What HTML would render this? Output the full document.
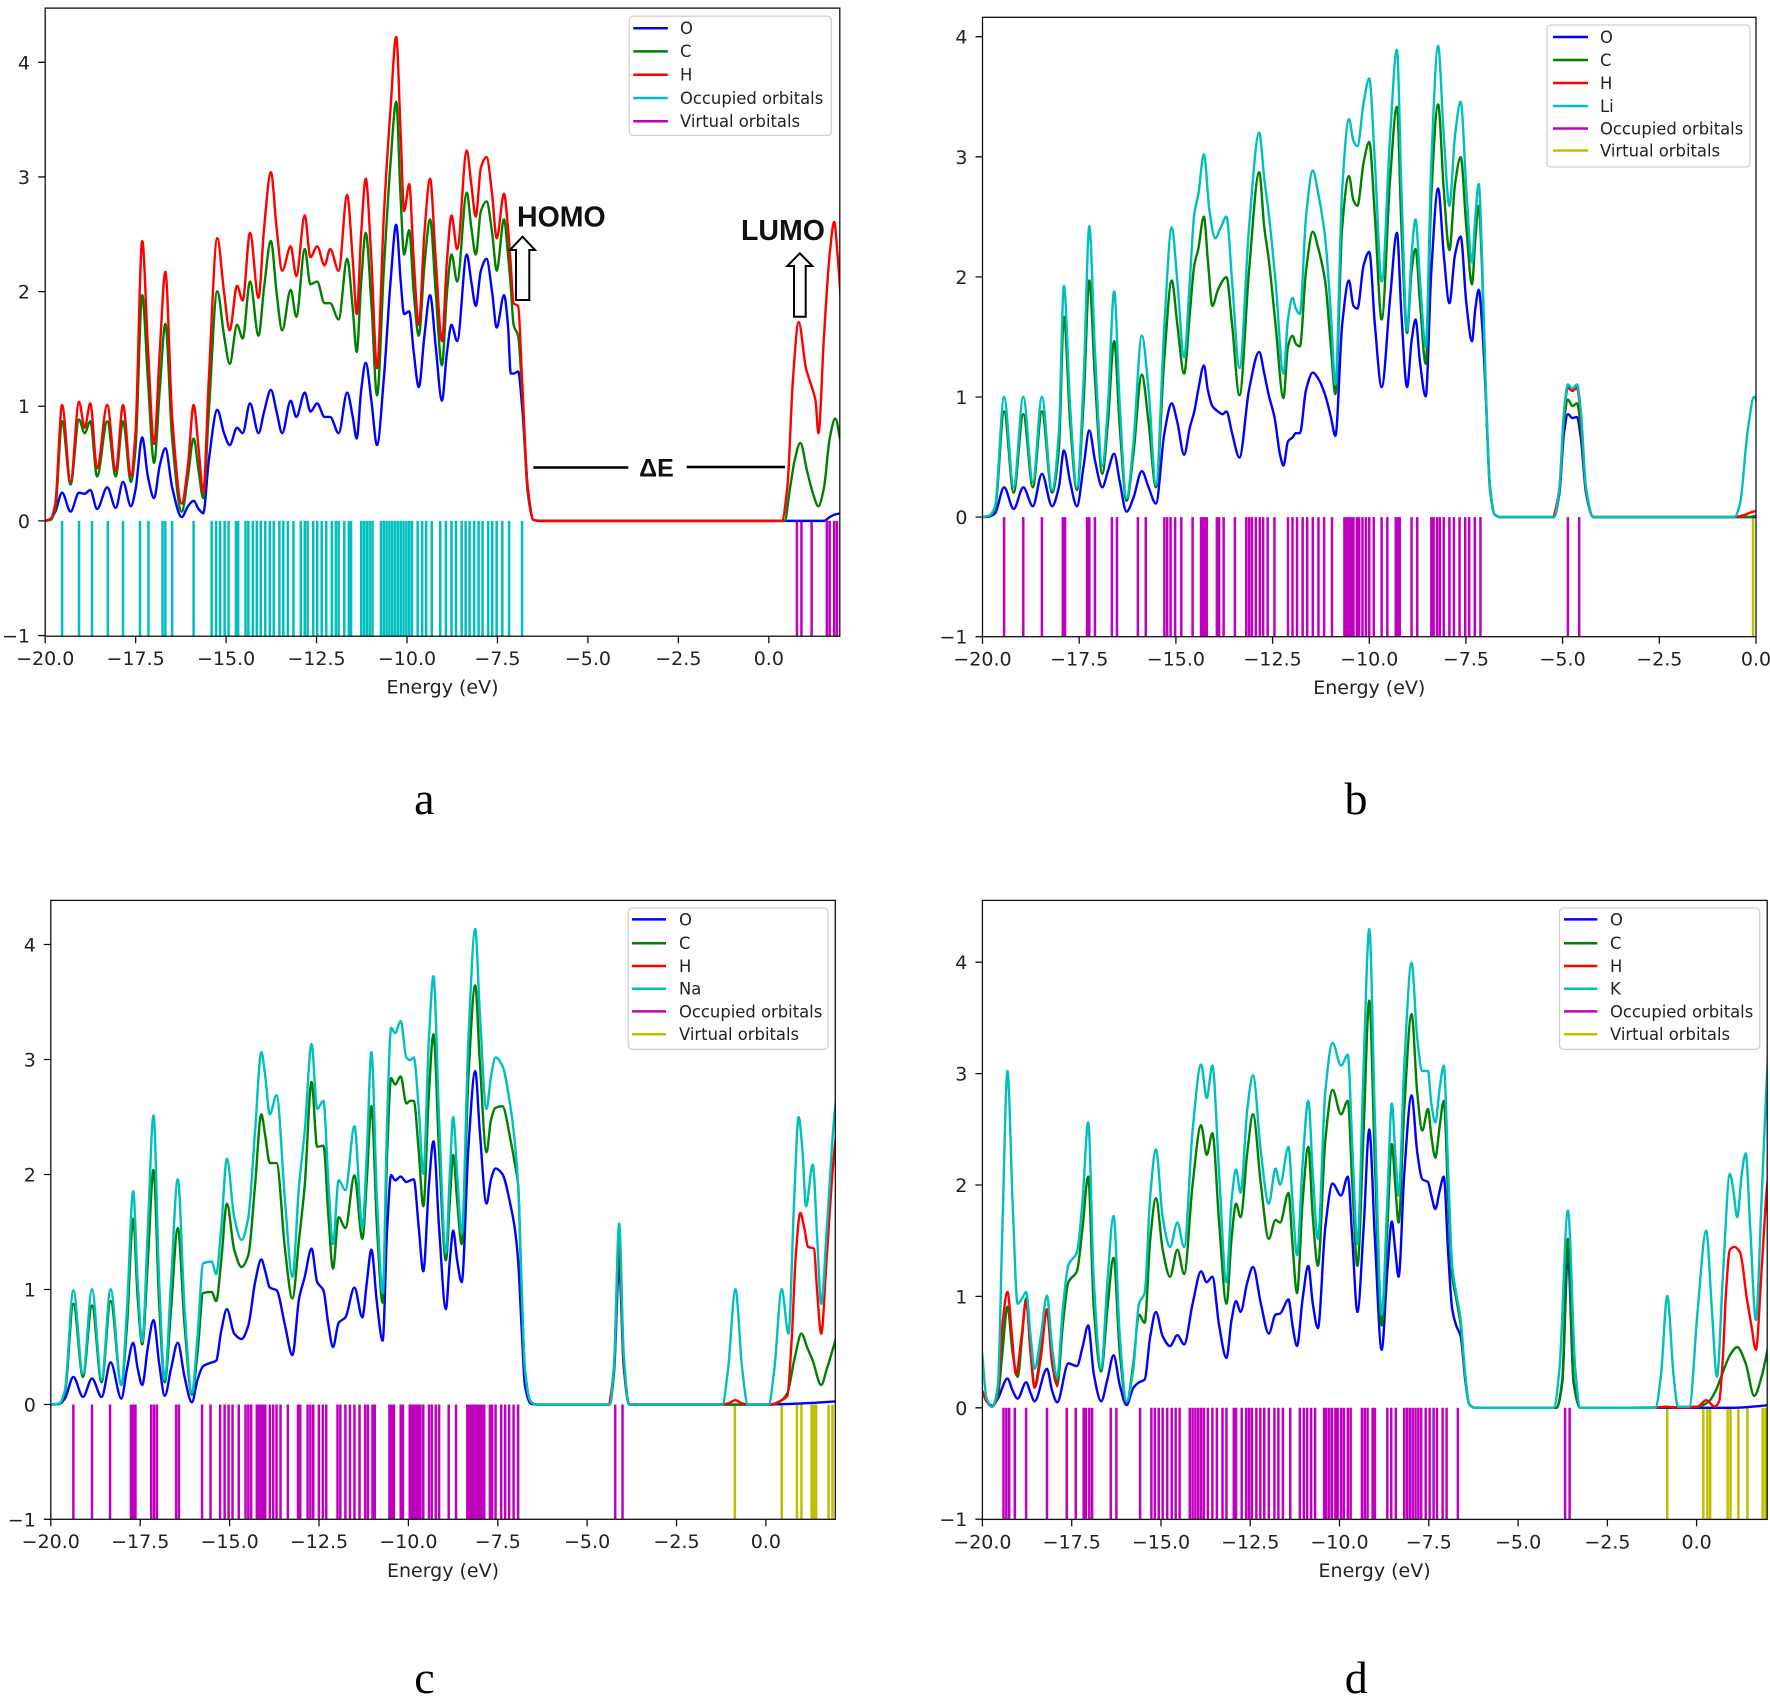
<!DOCTYPE html>
<html><head><meta charset="utf-8"><style>
html,body{margin:0;padding:0;background:#fff;}
svg{display:block;}
.tk{font-family:"DejaVu Sans","Liberation Sans",sans-serif;font-size:19px;fill:#222;}
.lg{font-family:"DejaVu Sans","Liberation Sans",sans-serif;font-size:16.4px;fill:#222;}
.sub{font-family:"Liberation Serif","DejaVu Serif",serif;font-size:46px;fill:#000;}
.bold{font-family:"Liberation Sans","DejaVu Sans",sans-serif;font-weight:bold;fill:#111;}
.c{fill:none;stroke-width:2.4;stroke-linejoin:round;stroke-linecap:round;vector-effect:non-scaling-stroke;}
.o{fill:none;stroke-width:2.5;vector-effect:non-scaling-stroke;}
.sp{fill:none;stroke:#111;stroke-width:1.3;}
.tm{stroke:#111;stroke-width:1.3;}
</style></head><body>
<svg width="1770" height="1698" viewBox="0 0 1770 1698" xmlns="http://www.w3.org/2000/svg">
<rect width="1770" height="1698" fill="#fff"/>
<defs>
<clipPath id="ca"><rect x="45.2" y="8.1" width="794.6" height="628.1"/></clipPath>
<clipPath id="cb"><rect x="982.5" y="17.3" width="773.5" height="619.4"/></clipPath>
<clipPath id="cc"><rect x="50.8" y="900.4" width="784.5" height="618.9"/></clipPath>
<clipPath id="cd"><rect x="982.4" y="900.4" width="784.8" height="619"/></clipPath>
</defs>

<!-- ================= PANEL A ================= -->
<g clip-path="url(#ca)">
<g transform="translate(0,0) scale(0.56440,0.54145)">
<path class="o" stroke="#00bfbf" d="M110 962V1176M140 962V1176M163 962V1176M191 962V1176M218 962V1176M248 962V1176M263 962V1176M288 962V1176M293 962V1176M305 962V1176M343 962V1176M375 962V1176M383 962V1176M390 962V1176M398 962V1176M405 962V1176M418 962V1176M422 962V1176M435 962V1176M440 962V1176M448 962V1176M455 962V1176M462 962V1176M470 962V1176M478 962V1176M485 962V1176M495 962V1176M502 962V1176M510 962V1176M520 962V1176M533 962V1176M540 962V1176M545 962V1176M555 962V1176M562 962V1176M570 962V1176M578 962V1176M588 962V1176M595 962V1176M600 962V1176M610 962V1176M618 962V1176M622 962V1176M640 962V1176M645 962V1176M650 962V1176M655 962V1176M660 962V1176M675 962V1176M680 962V1176M685 962V1176M690 962V1176M695 962V1176M700 962V1176M705 962V1176M710 962V1176M715 962V1176M720 962V1176M725 962V1176M730 962V1176M740 962V1176M748 962V1176M755 962V1176M765 962V1176M780 962V1176M790 962V1176M800 962V1176M808 962V1176M818 962V1176M825 962V1176M832 962V1176M840 962V1176M848 962V1176M855 962V1176M865 962V1176M872 962V1176M880 962V1176M890 962V1176M902 962V1176M925 962V1176"/>
<path class="o" stroke="#bf00bf" d="M1412 962V1176M1420 962V1176M1438 962V1176M1465 962V1176M1470 962V1176M1478 962V1176M1483 962V1176"/>
<polyline class="c" stroke="#0000ff" points="80,962 90,958 98,945 110,910 125,945 140,910 150,912 160,905 172,940 190,900 205,938 218,890 232,935 240,905 252,808 262,880 273,920 283,860 293,828 305,900 322,955 333,935 343,925 352,940 360,948 370,850 385,757 397,800 407,822 420,790 430,800 443,745 458,800 468,760 480,720 490,760 500,800 515,740 525,770 540,725 550,760 562,745 575,770 585,770 600,800 615,725 625,770 632,810 640,720 648,670 658,740 668,822 680,700 692,520 702,415 710,520 716,580 725,575 733,650 742,715 752,620 762,545 772,640 783,740 792,650 800,600 810,630 827,470 835,520 843,565 852,500 862,478 872,540 880,605 893,545 900,600 905,690 910,690 918,686 925,750 935,900 945,960 955,962 1460,962 1470,955 1480,950 1490,948"/>
<polyline class="c" stroke="#008000" points="80,962 90,960 98,940 110,778 125,895 140,775 150,800 160,778 172,880 190,778 205,880 218,778 232,890 240,830 252,545 262,700 273,855 283,720 293,598 305,810 322,945 333,880 343,810 352,870 360,920 370,760 385,538 397,620 407,672 420,600 430,625 443,520 458,620 468,530 480,445 490,540 500,610 515,535 525,585 540,460 550,525 562,520 575,560 585,560 600,590 615,478 625,570 632,650 640,520 648,430 658,560 668,730 680,500 692,300 702,188 710,370 716,470 725,425 733,540 742,620 752,490 762,405 772,540 783,675 792,540 800,470 810,520 827,356 835,420 843,470 852,390 862,372 872,430 880,500 893,405 900,470 905,530 910,600 918,620 925,720 935,910 945,960 955,962 1390,962 1400,900 1408,850 1418,818 1430,870 1440,910 1450,935 1460,900 1470,810 1480,773 1490,820"/>
<polyline class="c" stroke="#ff0000" points="80,962 90,958 98,930 110,748 125,890 140,742 150,790 160,745 172,865 190,748 205,870 218,748 232,880 240,800 252,445 262,640 273,820 283,650 293,502 305,770 322,930 333,860 343,748 352,830 360,910 370,700 385,440 397,540 407,610 420,528 430,555 443,430 458,550 468,420 480,318 490,420 500,500 515,455 525,510 540,398 550,475 562,455 575,490 585,460 600,500 615,360 625,480 632,580 640,430 648,330 658,480 668,680 680,400 692,200 702,68 710,250 716,390 725,340 733,480 742,600 752,430 762,330 772,480 783,630 792,480 800,398 810,460 827,278 835,340 843,400 852,310 862,290 872,360 880,440 893,358 900,420 905,490 910,560 918,565 925,700 935,900 945,960 955,962 1385,962 1395,900 1405,700 1415,595 1428,680 1440,720 1445,740 1450,800 1460,620 1470,470 1478,410 1484,470 1490,560"/>
</g>
</g>
<rect class="sp" x="45.2" y="8.1" width="794.6" height="628.1"/>
<path class="tm" d="M45.2 636.2v7M135.65 636.2v7M226.1 636.2v7M316.55 636.2v7M407 636.2v7M497.45 636.2v7M587.9 636.2v7M678.35 636.2v7M768.8 636.2v7M45.2 635.55h-7M45.2 520.9h-7M45.2 406.25h-7M45.2 291.6h-7M45.2 176.95h-7M45.2 62.3h-7"/>
<g class="tk" text-anchor="middle">
<text x="45.2" y="665">−20.0</text><text x="135.65" y="665">−17.5</text><text x="226.1" y="665">−15.0</text><text x="316.55" y="665">−12.5</text><text x="407" y="665">−10.0</text><text x="497.45" y="665">−7.5</text><text x="587.9" y="665">−5.0</text><text x="678.35" y="665">−2.5</text><text x="768.8" y="665">0.0</text>
<text x="442.5" y="693.5">Energy (eV)</text>
</g>
<g class="tk" text-anchor="end">
<text x="30" y="642.5">−1</text><text x="30" y="527.9">0</text><text x="30" y="413.2">1</text><text x="30" y="298.6">2</text><text x="30" y="184">3</text><text x="30" y="69.3">4</text>
</g>
<rect x="629.3" y="16.2" width="202" height="119.2" rx="4" fill="#fff" fill-opacity="0.85" stroke="#d0d0d0" stroke-width="1.3"/>
<path stroke-width="2.5" d="M633.3 28.2h34.5" stroke="#0000ff"/>
<path stroke-width="2.5" d="M633.3 51.4h34.5" stroke="#008000"/>
<path stroke-width="2.5" d="M633.3 74.7h34.5" stroke="#ff0000"/>
<path stroke-width="2.5" d="M633.3 98h34.5" stroke="#00bfbf"/>
<path stroke-width="2.5" d="M633.3 121.3h34.5" stroke="#bf00bf"/>
<g class="lg"><text x="680" y="34">O</text><text x="680" y="57.2">C</text><text x="680" y="80.5">H</text><text x="680" y="103.8">Occupied orbitals</text><text x="680" y="127.1">Virtual orbitals</text></g>
<text class="bold" x="517" y="226.7" font-size="28.5">HOMO</text>
<text class="bold" x="741" y="240" font-size="28.5">LUMO</text>
<polygon points="522.5,236.7 535,250 529.3,250 529.3,300 516,300 516,250 510,250" fill="#fff" stroke="#000" stroke-width="2"/>
<polygon points="799.8,253.3 812.3,266 805.7,266 805.7,316.7 794,316.7 794,266 787.3,266" fill="#fff" stroke="#000" stroke-width="2"/>
<path d="M533.3 467.5H628.3M686.7 467H785" stroke="#000" stroke-width="2.5"/>
<text class="bold" x="656.5" y="476.7" font-size="25" text-anchor="middle">ΔE</text>
<text class="sub" x="424.3" y="814" text-anchor="middle">a</text>

<!-- ================= PANEL B ================= -->
<g clip-path="url(#cb)">
<g transform="translate(885,0) scale(0.56440,0.54145)">
<path class="o" stroke="#bf00bf" d="M211 955V1180M245 955V1180M278 955V1180M315 955V1180M319 955V1180M358 955V1180M362 955V1180M372 955V1180M402 955V1180M411 955V1180M448 955V1180M462 955V1180M495 955V1180M500 955V1180M506 955V1180M514 955V1180M525 955V1180M545 955V1180M560 955V1180M563 955V1180M566 955V1180M570 955V1180M588 955V1180M592 955V1180M600 955V1180M620 955V1180M640 955V1180M645 955V1180M650 955V1180M657 955V1180M664 955V1180M670 955V1180M678 955V1180M690 955V1180M714 955V1180M722 955V1180M730 955V1180M740 955V1180M748 955V1180M758 955V1180M768 955V1180M778 955V1180M792 955V1180M814 955V1180M818 955V1180M822 955V1180M826 955V1180M830 955V1180M836 955V1180M840 955V1180M846 955V1180M852 955V1180M858 955V1180M866 955V1180M880 955V1180M890 955V1180M905 955V1180M908 955V1180M912 955V1180M933 955V1180M943 955V1180M968 955V1180M972 955V1180M978 955V1180M983 955V1180M990 955V1180M1000 955V1180M1008 955V1180M1018 955V1180M1028 955V1180M1035 955V1180M1045 955V1180M1055 955V1180M1210 955V1180M1230 955V1180"/>
<path class="o" stroke="#bfbf00" d="M1538 955V1180"/>
<polyline class="c" stroke="#0000ff" points="172,955 185,954 195,948 211,900 228,940 245,900 262,935 278,875 296,935 308,900 317,832 328,890 340,935 352,860 362,795 372,850 385,900 395,870 406,838 416,890 428,945 440,920 455,870 467,900 480,930 495,800 508,745 518,780 530,840 540,790 548,760 555,720 565,675 572,720 580,750 590,760 598,765 605,760 615,800 628,845 645,720 663,650 672,690 680,730 690,770 700,840 706,860 714,815 722,808 728,800 735,800 746,720 758,688 768,700 780,730 790,770 798,805 810,600 822,518 830,565 837,570 848,490 858,465 868,600 880,715 895,550 907,430 915,580 925,715 933,630 940,590 948,670 958,732 968,500 980,348 990,470 1000,560 1010,470 1020,437 1030,560 1040,630 1046,570 1052,535 1058,600 1064,720 1072,900 1080,950 1090,955 1185,955 1195,910 1203,800 1210,765 1218,772 1226,770 1233,810 1242,910 1255,955 1550,955"/>
<polyline class="c" stroke="#008000" points="172,955 185,953 195,940 211,760 228,910 245,765 262,900 278,760 296,910 308,830 317,585 328,780 340,905 352,740 362,518 372,700 385,875 395,780 406,630 416,790 428,925 440,840 455,692 467,780 480,900 495,660 508,518 518,600 530,690 540,580 548,490 555,460 565,400 572,480 580,565 590,535 605,512 615,600 628,730 645,500 663,318 672,420 680,480 692,600 706,735 714,640 722,620 728,635 735,640 746,500 758,428 768,460 780,520 790,640 798,728 810,420 822,325 830,370 837,380 848,300 858,262 868,400 880,590 895,330 907,197 915,420 925,615 933,500 940,460 948,560 958,672 968,360 980,193 990,350 1000,462 1010,340 1020,290 1030,420 1040,525 1046,440 1052,380 1058,500 1064,710 1072,905 1080,950 1090,955 1185,955 1195,905 1203,780 1210,738 1218,750 1226,745 1233,790 1242,905 1255,955 1530,955 1550,950"/>
<polyline class="c" stroke="#ff0000" points="1185,955 1195,902 1203,765 1210,716 1218,722 1226,716 1233,770 1242,902 1255,955 1505,955 1520,952 1535,946 1550,942"/>
<polyline class="c" stroke="#00bfbf" points="172,955 185,952 195,935 211,733 228,900 245,733 262,890 278,733 296,905 308,800 317,528 328,750 340,900 352,700 362,418 372,650 385,860 395,750 406,538 416,750 428,920 440,820 455,620 467,720 480,895 495,600 508,420 518,520 530,660 540,520 548,395 555,360 565,285 575,390 585,440 595,420 605,400 615,520 628,680 645,420 663,245 672,330 680,395 692,520 706,690 714,590 722,550 728,570 735,580 746,400 758,315 768,360 780,440 790,580 798,710 810,350 822,220 830,260 837,270 848,190 858,145 868,300 880,520 895,250 907,92 915,350 925,610 933,470 940,405 948,520 958,640 968,300 980,85 990,250 1000,380 1010,250 1020,188 1030,350 1040,485 1046,400 1052,340 1058,480 1064,700 1072,900 1080,950 1090,955 1185,955 1195,900 1203,760 1210,710 1218,718 1226,710 1233,760 1242,900 1255,955 1505,955 1515,930 1528,800 1540,733 1550,770"/>
</g>
</g>
<rect class="sp" x="982.5" y="17.3" width="773.5" height="619.4"/>
<path class="tm" d="M982.5 636.7v7M1079.2 636.7v7M1175.9 636.7v7M1272.6 636.7v7M1369.3 636.7v7M1465.9 636.7v7M1562.6 636.7v7M1659.3 636.7v7M1756 636.7v7M982.5 636.7h-7M982.5 517.1h-7M982.5 397h-7M982.5 276.9h-7M982.5 156.8h-7M982.5 36.7h-7"/>
<g class="tk" text-anchor="middle">
<text x="982.5" y="665.5">−20.0</text><text x="1079.2" y="665.5">−17.5</text><text x="1175.9" y="665.5">−15.0</text><text x="1272.6" y="665.5">−12.5</text><text x="1369.3" y="665.5">−10.0</text><text x="1465.9" y="665.5">−7.5</text><text x="1562.6" y="665.5">−5.0</text><text x="1659.3" y="665.5">−2.5</text><text x="1756" y="665.5">0.0</text>
<text x="1369.3" y="694">Energy (eV)</text>
</g>
<g class="tk" text-anchor="end">
<text x="967.5" y="643.7">−1</text><text x="967.5" y="524.1">0</text><text x="967.5" y="404">1</text><text x="967.5" y="283.9">2</text><text x="967.5" y="163.8">3</text><text x="967.5" y="43.7">4</text>
</g>
<rect x="1547" y="25" width="203" height="142" rx="4" fill="#fff" fill-opacity="0.85" stroke="#d0d0d0" stroke-width="1.3"/>
<path stroke-width="2.5" d="M1553 37h35" stroke="#0000ff"/>
<path stroke-width="2.5" d="M1553 60h35" stroke="#008000"/>
<path stroke-width="2.5" d="M1553 83h35" stroke="#ff0000"/>
<path stroke-width="2.5" d="M1553 106h35" stroke="#00bfbf"/>
<path stroke-width="2.5" d="M1553 128.5h35" stroke="#bf00bf"/>
<path stroke-width="2.5" d="M1553 150.5h35" stroke="#bfbf00"/>
<g class="lg"><text x="1600" y="43">O</text><text x="1600" y="66">C</text><text x="1600" y="89">H</text><text x="1600" y="112">Li</text><text x="1600" y="134.5">Occupied orbitals</text><text x="1600" y="156.5">Virtual orbitals</text></g>
<text class="sub" x="1356" y="814" text-anchor="middle">b</text>

<!-- ================= PANEL C ================= -->
<g clip-path="url(#cc)">
<g transform="translate(0,849) scale(0.56440,0.54145)">
<path class="o" stroke="#bf00bf" d="M130 1026V1242M163 1026V1242M195 1026V1242M232 1026V1242M236 1026V1242M240 1026V1242M268 1026V1242M273 1026V1242M278 1026V1242M312 1026V1242M317 1026V1242M358 1026V1242M373 1026V1242M390 1026V1242M398 1026V1242M405 1026V1242M412 1026V1242M423 1026V1242M435 1026V1242M440 1026V1242M445 1026V1242M455 1026V1242M458 1026V1242M461 1026V1242M464 1026V1242M467 1026V1242M470 1026V1242M478 1026V1242M484 1026V1242M490 1026V1242M497 1026V1242M510 1026V1242M528 1026V1242M532 1026V1242M545 1026V1242M550 1026V1242M555 1026V1242M565 1026V1242M572 1026V1242M578 1026V1242M598 1026V1242M603 1026V1242M612 1026V1242M620 1026V1242M628 1026V1242M637 1026V1242M647 1026V1242M652 1026V1242M660 1026V1242M664 1026V1242M690 1026V1242M694 1026V1242M698 1026V1242M710 1026V1242M714 1026V1242M726 1026V1242M730 1026V1242M734 1026V1242M738 1026V1242M742 1026V1242M745 1026V1242M750 1026V1242M760 1026V1242M765 1026V1242M772 1026V1242M778 1026V1242M795 1026V1242M808 1026V1242M828 1026V1242M832 1026V1242M836 1026V1242M840 1026V1242M844 1026V1242M848 1026V1242M852 1026V1242M855 1026V1242M858 1026V1242M868 1026V1242M872 1026V1242M878 1026V1242M888 1026V1242M895 1026V1242M902 1026V1242M910 1026V1242M918 1026V1242M1090 1026V1242M1103 1026V1242"/>
<path class="o" stroke="#bfbf00" d="M1302 1026V1242M1385 1026V1242M1412 1026V1242M1420 1026V1242M1438 1026V1242M1442 1026V1242M1446 1026V1242M1468 1026V1242M1475 1026V1242"/>
<polyline class="c" stroke="#0000ff" points="90,1026 105,1025 115,1015 130,975 147,1012 163,978 180,1012 196,948 215,1015 225,960 236,912 244,960 252,990 262,920 272,870 282,950 292,1010 303,960 315,912 327,975 340,1022 350,980 360,955 370,950 383,945 392,890 402,850 415,895 428,905 440,880 452,800 463,758 470,780 478,810 490,815 505,880 518,935 530,830 540,790 552,738 562,800 573,815 582,880 590,920 600,875 612,865 628,810 642,865 650,800 658,740 668,840 678,908 686,700 693,602 700,612 710,605 720,615 727,612 733,610 742,700 750,780 760,620 768,540 778,700 790,850 797,760 803,705 810,760 818,800 830,550 842,410 850,520 862,655 870,610 878,590 890,600 905,660 912,700 918,760 924,880 930,990 940,1024 950,1026 1080,1026 1088,965 1097,770 1105,955 1115,1026 1350,1026 1420,1024 1485,1020"/>
<polyline class="c" stroke="#008000" points="90,1026 105,1025 115,1005 130,840 147,975 163,843 180,985 196,835 215,990 225,880 236,683 244,830 252,915 262,760 272,593 282,840 292,985 303,850 315,700 327,880 340,1008 350,930 360,820 375,818 383,835 392,760 402,655 415,740 428,772 440,750 452,620 463,490 470,530 478,580 490,580 505,740 518,830 530,720 540,620 552,430 562,550 573,548 582,680 590,775 600,680 612,700 628,603 642,720 650,610 658,475 668,700 678,838 686,560 693,423 700,435 710,420 720,470 727,465 733,465 742,560 750,660 760,450 768,342 778,560 790,760 797,650 803,565 810,650 818,730 830,420 842,252 850,390 862,560 870,500 878,478 890,475 905,540 912,580 918,620 924,810 930,960 940,1020 950,1026 1080,1026 1088,960 1097,740 1105,950 1115,1026 1370,1026 1385,1018 1395,1005 1408,940 1420,895 1430,920 1440,945 1455,990 1465,960 1485,890"/>
<polyline class="c" stroke="#ff0000" points="1080,1026 1088,955 1097,705 1105,940 1115,1026 1270,1026 1290,1024 1303,1018 1315,1024 1330,1026 1365,1026 1385,1018 1395,1010 1403,900 1410,750 1418,672 1425,700 1432,735 1442,738 1448,820 1455,895 1465,750 1478,560 1485,500"/>
<polyline class="c" stroke="#00bfbf" points="90,1026 105,1024 115,1000 130,815 147,970 163,813 180,980 196,813 215,990 225,850 236,632 244,800 252,910 262,700 272,492 282,800 292,980 303,800 315,610 327,850 340,1005 350,900 360,765 375,762 383,785 392,700 402,572 415,680 428,722 440,680 452,520 463,375 470,420 478,490 490,455 505,650 518,790 530,620 540,520 552,360 562,480 573,465 582,620 590,730 600,612 612,630 628,512 642,700 650,560 658,375 668,650 678,820 686,500 693,330 700,340 710,318 720,385 727,390 733,385 742,480 750,600 760,350 768,235 778,500 790,745 797,600 803,495 810,600 818,710 830,350 842,148 850,300 862,480 870,420 878,385 890,400 905,480 912,540 918,620 924,800 930,960 940,1020 950,1026 1080,1026 1088,950 1097,692 1105,930 1115,1026 1280,1026 1290,960 1303,813 1315,960 1325,1026 1362,1026 1372,960 1385,813 1397,895 1407,650 1415,495 1422,560 1428,660 1440,583 1448,720 1455,840 1465,700 1478,495 1485,430"/>
</g>
</g>
<rect class="sp" x="50.8" y="900.4" width="784.5" height="618.9"/>
<path class="tm" d="M50.8 1519.3v7M140.2 1519.3v7M229.6 1519.3v7M319 1519.3v7M408.4 1519.3v7M497.8 1519.3v7M587.1 1519.3v7M676.5 1519.3v7M765.9 1519.3v7M50.8 1519.3h-7M50.8 1404.5h-7M50.8 1289.5h-7M50.8 1174.5h-7M50.8 1059.5h-7M50.8 944.5h-7"/>
<g class="tk" text-anchor="middle">
<text x="50.8" y="1548.1">−20.0</text><text x="140.2" y="1548.1">−17.5</text><text x="229.6" y="1548.1">−15.0</text><text x="319" y="1548.1">−12.5</text><text x="408.4" y="1548.1">−10.0</text><text x="497.8" y="1548.1">−7.5</text><text x="587.1" y="1548.1">−5.0</text><text x="676.5" y="1548.1">−2.5</text><text x="765.9" y="1548.1">0.0</text>
<text x="443" y="1577">Energy (eV)</text>
</g>
<g class="tk" text-anchor="end">
<text x="35.8" y="1526.3">−1</text><text x="35.8" y="1411.5">0</text><text x="35.8" y="1296.5">1</text><text x="35.8" y="1181.5">2</text><text x="35.8" y="1066.5">3</text><text x="35.8" y="951.5">4</text>
</g>
<rect x="628.2" y="908" width="199.8" height="141.3" rx="4" fill="#fff" fill-opacity="0.85" stroke="#d0d0d0" stroke-width="1.3"/>
<path stroke-width="2.5" d="M632 919.4h34" stroke="#0000ff"/>
<path stroke-width="2.5" d="M632 943.2h34" stroke="#008000"/>
<path stroke-width="2.5" d="M632 966h34" stroke="#ff0000"/>
<path stroke-width="2.5" d="M632 988.7h34" stroke="#00bfbf"/>
<path stroke-width="2.5" d="M632 1011.4h34" stroke="#bf00bf"/>
<path stroke-width="2.5" d="M632 1034.2h34" stroke="#bfbf00"/>
<g class="lg"><text x="679" y="925.4">O</text><text x="679" y="949.2">C</text><text x="679" y="972">H</text><text x="679" y="994.7">Na</text><text x="679" y="1017.4">Occupied orbitals</text><text x="679" y="1040.2">Virtual orbitals</text></g>
<text class="sub" x="424.4" y="1693" text-anchor="middle">c</text>

<!-- ================= PANEL D ================= -->
<g clip-path="url(#cd)">
<g transform="translate(885,849) scale(0.56440,0.54145)">
<path class="o" stroke="#bf00bf" d="M210 1032V1244M215 1032V1244M220 1032V1244M230 1032V1244M250 1032V1244M287 1032V1244M322 1032V1244M338 1032V1244M352 1032V1244M356 1032V1244M362 1032V1244M367 1032V1244M400 1032V1244M410 1032V1244M452 1032V1244M472 1032V1244M478 1032V1244M485 1032V1244M492 1032V1244M500 1032V1244M508 1032V1244M515 1032V1244M522 1032V1244M540 1032V1244M545 1032V1244M550 1032V1244M555 1032V1244M560 1032V1244M565 1032V1244M572 1032V1244M580 1032V1244M588 1032V1244M598 1032V1244M605 1032V1244M618 1032V1244M622 1032V1244M632 1032V1244M640 1032V1244M645 1032V1244M650 1032V1244M658 1032V1244M665 1032V1244M672 1032V1244M680 1032V1244M690 1032V1244M697 1032V1244M705 1032V1244M718 1032V1244M735 1032V1244M742 1032V1244M748 1032V1244M755 1032V1244M762 1032V1244M778 1032V1244M782 1032V1244M787 1032V1244M792 1032V1244M798 1032V1244M802 1032V1244M808 1032V1244M813 1032V1244M820 1032V1244M825 1032V1244M845 1032V1244M850 1032V1244M855 1032V1244M864 1032V1244M868 1032V1244M890 1032V1244M897 1032V1244M905 1032V1244M920 1032V1244M925 1032V1244M930 1032V1244M935 1032V1244M940 1032V1244M945 1032V1244M950 1032V1244M958 1032V1244M965 1032V1244M972 1032V1244M978 1032V1244M988 1032V1244M995 1032V1244M1015 1032V1244M1205 1032V1244M1213 1032V1244"/>
<path class="o" stroke="#bfbf00" d="M1386 1032V1244M1450 1032V1244M1457 1032V1244M1462 1032V1244M1493 1032V1244M1498 1032V1244M1512 1032V1244M1528 1032V1244M1555 1032V1244M1560 1032V1244"/>
<polyline class="c" stroke="#0000ff" points="172,1000 180,1020 190,1028 200,1015 217,978 226,1000 235,1015 250,985 258,1005 265,1020 287,960 296,1000 305,1022 325,950 340,955 350,920 360,880 370,970 383,1020 394,980 405,935 416,990 428,1027 440,995 450,985 460,980 470,900 480,855 492,900 505,918 518,898 530,915 545,840 560,780 570,800 580,790 592,880 605,940 614,870 622,835 630,855 642,800 652,772 666,840 680,895 692,860 700,858 715,832 722,880 730,918 740,830 750,770 758,840 767,885 780,700 793,618 808,640 820,605 828,720 837,855 848,700 858,518 868,720 880,925 890,780 898,688 904,740 910,790 920,600 933,455 943,560 952,610 962,615 968,640 975,665 983,630 990,605 998,750 1005,850 1012,880 1020,900 1028,980 1035,1025 1045,1032 1190,1032 1200,985 1210,750 1220,985 1232,1032 1500,1032 1570,1027"/>
<polyline class="c" stroke="#008000" points="172,1000 180,1020 190,1030 200,1010 208,930 217,845 226,930 235,975 243,900 250,830 258,930 265,990 276,930 287,855 296,950 305,990 315,880 325,800 340,780 350,700 360,605 370,850 383,965 394,850 405,755 416,930 428,1022 440,950 450,860 460,875 470,720 480,645 492,740 505,790 518,740 530,785 545,620 560,510 570,565 580,525 592,690 605,840 614,720 622,655 630,680 642,560 652,490 666,620 680,720 692,685 700,690 715,635 722,730 730,820 740,650 750,550 758,680 767,770 780,540 793,445 808,490 820,465 828,620 837,770 848,520 858,280 868,580 880,880 890,700 898,545 904,620 910,690 920,480 933,305 943,450 952,520 962,480 968,530 975,570 983,510 990,465 998,650 1005,790 1012,830 1020,880 1028,975 1035,1025 1045,1032 1190,1032 1200,980 1210,720 1220,980 1232,1032 1440,1030 1460,1020 1472,1000 1485,965 1497,935 1510,920 1525,950 1540,1010 1553,975 1570,890"/>
<polyline class="c" stroke="#ff0000" points="172,1000 180,1020 190,1030 200,1000 208,880 217,818 225,900 232,970 242,900 250,835 258,930 265,995 276,940 287,850 296,945 305,992"/>
<polyline class="c" stroke="#ff0000" points="1365,1032 1385,1030 1400,1032 1440,1030 1455,1018 1470,1030 1478,1020 1485,930 1490,820 1497,740 1505,735 1515,745 1527,830 1535,880 1543,925 1553,780 1563,620 1570,560"/>
<polyline class="c" stroke="#00bfbf" points="172,930 180,1015 190,1030 200,990 208,700 217,410 226,650 235,840 243,830 250,818 258,900 265,960 276,900 287,825 296,920 305,975 315,850 325,768 340,745 350,650 360,505 370,800 383,960 394,800 405,678 416,900 428,1020 440,960 450,840 460,820 470,640 480,555 492,680 505,735 518,690 530,735 545,520 560,398 570,460 580,400 592,600 605,800 614,650 622,592 630,635 642,480 652,418 666,560 680,655 692,590 700,620 715,550 722,650 730,750 740,580 750,465 758,600 767,720 780,450 793,358 808,400 820,380 828,550 837,730 848,400 858,148 868,500 880,860 890,650 898,470 904,560 910,640 920,400 933,210 943,350 952,410 962,410 968,470 975,505 983,440 990,400 998,600 1005,770 1012,820 1020,870 1028,970 1035,1025 1045,1032 1185,1032 1195,960 1210,668 1223,960 1232,1032 1365,1032 1375,970 1386,825 1397,970 1405,1030 1425,1030 1440,850 1455,705 1465,850 1474,975 1485,780 1497,600 1503,630 1510,680 1518,600 1525,562 1533,700 1543,870 1553,650 1563,410 1570,300"/>
</g>
</g>
<rect class="sp" x="982.4" y="900.4" width="784.8" height="619"/>
<path class="tm" d="M982.4 1519.4v7M1071.7 1519.4v7M1161 1519.4v7M1250.2 1519.4v7M1339.5 1519.4v7M1428.8 1519.4v7M1518.1 1519.4v7M1607.4 1519.4v7M1696.6 1519.4v7M982.4 1519.2h-7M982.4 1407.8h-7M982.4 1296.4h-7M982.4 1185h-7M982.4 1073.6h-7M982.4 962.2h-7"/>
<g class="tk" text-anchor="middle">
<text x="982.4" y="1548.3">−20.0</text><text x="1071.7" y="1548.3">−17.5</text><text x="1161" y="1548.3">−15.0</text><text x="1250.2" y="1548.3">−12.5</text><text x="1339.5" y="1548.3">−10.0</text><text x="1428.8" y="1548.3">−7.5</text><text x="1518.1" y="1548.3">−5.0</text><text x="1607.4" y="1548.3">−2.5</text><text x="1696.6" y="1548.3">0.0</text>
<text x="1374.6" y="1577">Energy (eV)</text>
</g>
<g class="tk" text-anchor="end">
<text x="967.4" y="1526.2">−1</text><text x="967.4" y="1414.8">0</text><text x="967.4" y="1303.4">1</text><text x="967.4" y="1192">2</text><text x="967.4" y="1080.6">3</text><text x="967.4" y="969.2">4</text>
</g>
<rect x="1559.5" y="908" width="200.3" height="141.3" rx="4" fill="#fff" fill-opacity="0.85" stroke="#d0d0d0" stroke-width="1.3"/>
<path stroke-width="2.5" d="M1564 919.4h33.3" stroke="#0000ff"/>
<path stroke-width="2.5" d="M1564 943.2h33.3" stroke="#008000"/>
<path stroke-width="2.5" d="M1564 966h33.3" stroke="#ff0000"/>
<path stroke-width="2.5" d="M1564 988.7h33.3" stroke="#00bfbf"/>
<path stroke-width="2.5" d="M1564 1011.4h33.3" stroke="#bf00bf"/>
<path stroke-width="2.5" d="M1564 1034.2h33.3" stroke="#bfbf00"/>
<g class="lg"><text x="1610" y="925.4">O</text><text x="1610" y="949.2">C</text><text x="1610" y="972">H</text><text x="1610" y="994.7">K</text><text x="1610" y="1017.4">Occupied orbitals</text><text x="1610" y="1040.2">Virtual orbitals</text></g>
<text class="sub" x="1356.3" y="1693" text-anchor="middle">d</text>
</svg>
<script>
(function(){
var pls=document.querySelectorAll('polyline.c');
for(var q=0;q<pls.length;q++){
 var pl=pls[q];
 var raw=pl.getAttribute('points').trim().split(/\s+/);
 var pts=[];
 for(var r=0;r<raw.length;r++){var a=raw[r].split(',');pts.push([+a[0],+a[1]]);}
 var n=pts.length; if(n<3) continue;
 var d=[],m=[],i;
 for(i=0;i<n-1;i++){var h=pts[i+1][0]-pts[i][0]; d.push(h>0?(pts[i+1][1]-pts[i][1])/h:0);}
 m[0]=d[0]; m[n-1]=d[n-2];
 for(i=1;i<n-1;i++){
  if(d[i-1]*d[i]<=0){m[i]=0;}
  else{var h0=pts[i][0]-pts[i-1][0],h1=pts[i+1][0]-pts[i][0];var w1=2*h1+h0,w2=h1+2*h0;m[i]=(w1+w2)/(w1/d[i-1]+w2/d[i]);}
 }
 var s='M'+pts[0][0]+' '+pts[0][1];
 for(i=0;i<n-1;i++){
  var hh=pts[i+1][0]-pts[i][0];
  s+='C'+(pts[i][0]+hh/3).toFixed(2)+' '+(pts[i][1]+m[i]*hh/3).toFixed(2)+' '+(pts[i+1][0]-hh/3).toFixed(2)+' '+(pts[i+1][1]-m[i+1]*hh/3).toFixed(2)+' '+pts[i+1][0]+' '+pts[i+1][1];
 }
 var p=document.createElementNS('http://www.w3.org/2000/svg','path');
 p.setAttribute('d',s);p.setAttribute('class','c');p.setAttribute('stroke',pl.getAttribute('stroke'));
 pl.parentNode.replaceChild(p,pl);
}
})();
</script>
</body></html>
